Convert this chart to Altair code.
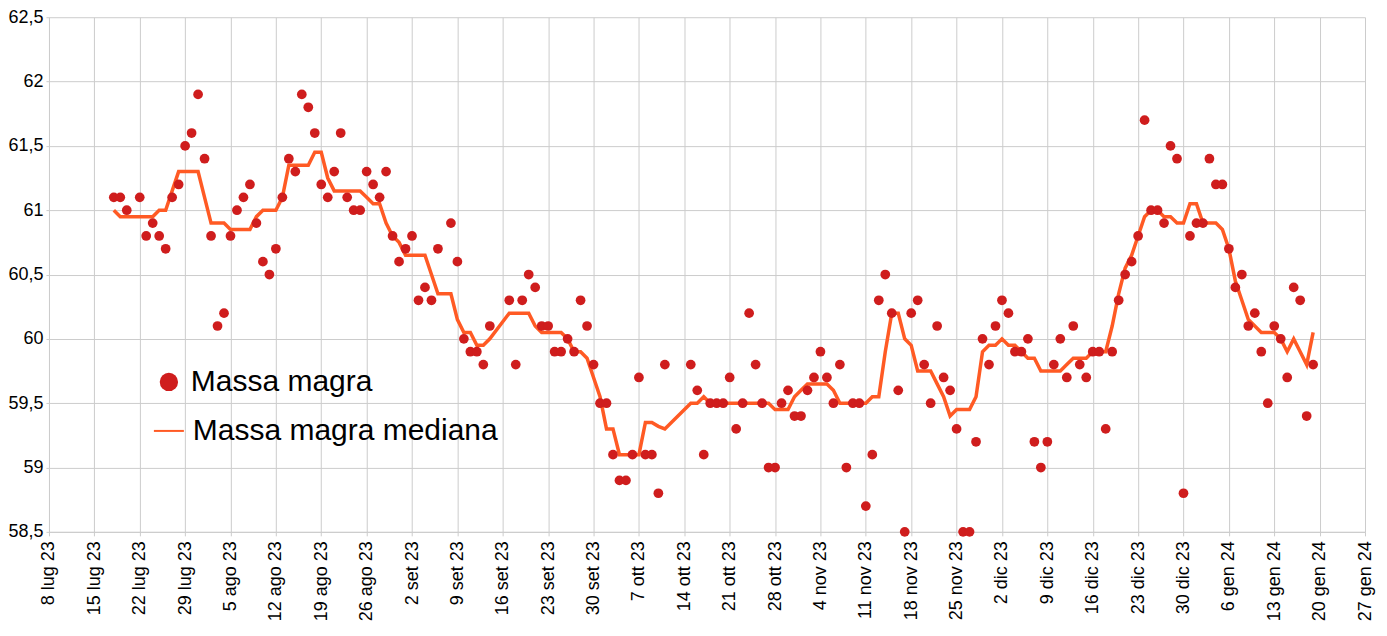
import json
import altair as alt
import pandas as pd

# ---- data -------------------------------------------------------------
# day offsets are counted from 8 lug 23 (day 0); first measurement on day 10
first_day = 10
massa_magra = [
    61.1, 61.1, 61.0, None, 61.1, 60.8, 60.9,
    60.8, 60.7, 61.1, 61.2, 61.5, 61.6, 61.9,
    61.4, 60.8, 60.1, 60.2, 60.8, 61.0, 61.1,
    61.2, 60.9, 60.6, 60.5, 60.7, 61.1, 61.4,
    61.3, 61.9, 61.8, 61.6, 61.2, 61.1, 61.3,
    61.6, 61.1, 61.0, 61.0, 61.3, 61.2, 61.1,
    61.3, 60.8, 60.6, 60.7, 60.8, 60.3, 60.4,
    60.3, 60.7, None, 60.9, 60.6, 60.0, 59.9,
    59.9, 59.8, 60.1, None, None, 60.3, 59.8,
    60.3, 60.5, 60.4, 60.1, 60.1, 59.9, 59.9,
    60.0, 59.9, 60.3, 60.1, 59.8, 59.5, 59.5,
    59.1, 58.9, 58.9, 59.1, 59.7, 59.1, 59.1,
    58.8, 59.8, None, None, None, 59.8, 59.6,
    59.1, 59.5, 59.5, 59.5, 59.7, 59.3, 59.5,
    60.2, 59.8, 59.5, 59.0, 59.0, 59.5, 59.6,
    59.4, 59.4, 59.6, 59.7, 59.9, 59.7, 59.5,
    59.8, 59.0, 59.5, 59.5, 58.7, 59.1, 60.3,
    60.5, 60.2, 59.6, 58.5, 60.2, 60.3, 59.8,
    59.5, 60.1, 59.7, 59.6, 59.3, 58.5, 58.5,
    59.2, 60.0, 59.8, 60.1, 60.3, 60.2, 59.9,
    59.9, 60.0, 59.2, 59.0, 59.2, 59.8, 60.0,
    59.7, 60.1, 59.8, 59.7, 59.9, 59.9, 59.3,
    59.9, 60.3, 60.5, 60.6, 60.8, 61.7, 61.0,
    61.0, 60.9, 61.5, 61.4, 58.8, 60.8, 60.9,
    60.9, 61.4, 61.2, 61.2, 60.7, 60.4, 60.5,
    60.1, 60.2, 59.9, 59.5, 60.1, 60.0, 59.7,
    60.4, 60.3, 59.4, 59.8,
]
massa_magra_mediana = [
    61.0, 60.95, 60.95, None, 60.95, 60.95, 60.95,
    61.0, 61.0, 61.15, 61.3, 61.3, 61.3, 61.3,
    61.1, 60.9, 60.9, 60.9, 60.85, 60.85, 60.85,
    60.85, 60.95, 61.0, 61.0, 61.0, 61.1, 61.35,
    61.35, 61.35, 61.35, 61.45, 61.45, 61.25, 61.15,
    61.15, 61.15, 61.15, 61.15, 61.1, 61.05, 61.05,
    60.9, 60.8, 60.75, 60.65, 60.65, 60.65, 60.65,
    60.5, 60.35, None, 60.35, 60.15, 60.05, 60.05,
    59.95, 59.95, 60.0, None, None, 60.2, 60.2,
    60.2, 60.2, 60.1, 60.05, 60.05, 60.05, 60.05,
    60.0, 59.9, 59.9, 59.85, 59.7, 59.55, 59.3,
    59.3, 59.1, 59.1, 59.1, 59.1, 59.35, 59.35,
    59.32, 59.3, None, None, None, 59.5, 59.5,
    59.55, 59.5, 59.5, 59.5, 59.5, 59.5, 59.5,
    59.5, 59.5, 59.5, 59.5, 59.45, 59.45, 59.45,
    59.55, 59.6, 59.65, 59.65, 59.65, 59.65, 59.6,
    59.5, 59.5, 59.5, 59.5, 59.5, 59.55, 59.55,
    59.9, 60.2, 60.2, 60.0, 59.95, 59.75, 59.75,
    59.75, 59.65, 59.55, 59.4, 59.45, 59.45, 59.45,
    59.55, 59.9, 59.95, 59.95, 60.0, 59.95, 59.95,
    59.9, 59.85, 59.85, 59.75, 59.75, 59.75, 59.75,
    59.8, 59.85, 59.85, 59.85, 59.9, 59.9, 59.9,
    60.1, 60.35, 60.55, 60.65, 60.8, 60.95, 61.0,
    61.0, 60.95, 60.95, 60.9, 60.9, 61.05, 61.05,
    60.9, 60.9, 60.9, 60.85, 60.7, 60.45, 60.3,
    60.15, 60.1, 60.05, 60.05, 60.05, 60.0, 59.9,
    60.0, 59.9, 59.8, 60.05,
]
tick_labels = [
    "8 lug 23", "15 lug 23", "22 lug 23", "29 lug 23", "5 ago 23", "12 ago 23",
    "19 ago 23", "26 ago 23", "2 set 23", "9 set 23", "16 set 23", "23 set 23",
    "30 set 23", "7 ott 23", "14 ott 23", "21 ott 23", "28 ott 23", "4 nov 23",
    "11 nov 23", "18 nov 23", "25 nov 23", "2 dic 23", "9 dic 23", "16 dic 23",
    "23 dic 23", "30 dic 23", "6 gen 24", "13 gen 24", "20 gen 24", "27 gen 24",
]
y_ticks = [58.5, 59, 59.5, 60, 60.5, 61, 61.5, 62, 62.5]

# ---- build tables -----------------------------------------------------
days = list(range(first_day, first_day + len(massa_magra)))
df_pts = pd.DataFrame({"day": days, "v": massa_magra, "series": "Massa magra"}).dropna()
df_med = pd.DataFrame({"day": days, "v": massa_magra_mediana,
                       "series": "Massa magra mediana"}).dropna()

GRID = "#cccccc"
FONT = "Liberation Sans"
RED = "#cf1d1d"
ORANGE = "#ff5a24"

x_enc = alt.X(
    "day:Q",
    scale=alt.Scale(domain=[0, 203], nice=False, zero=False),
    axis=alt.Axis(
        values=list(range(0, 204, 7)),
        labelExpr=json.dumps(tick_labels) + "[round(datum.value / 7)]",
        labelAngle=270, labelFontSize=18, labelFont=FONT, labelColor="black",
        labelPadding=5, tickSize=4, tickColor=GRID, domainColor=GRID,
        gridColor=GRID, title=None, labelOverlap=False,
    ),
)
y_enc = alt.Y(
    "v:Q",
    scale=alt.Scale(domain=[58.5, 62.5], nice=False, zero=False),
    axis=alt.Axis(
        values=y_ticks,
        labelExpr="replace(format(datum.value, '.1~f'), '.', ',')",
        labelFontSize=18, labelFont=FONT, labelColor="black",
        labelPadding=3, tickSize=3, tickColor=GRID, domainColor=GRID,
        gridColor=GRID, title=None,
    ),
)

line = alt.Chart(df_med).mark_line(strokeWidth=3.5).encode(
    x=x_enc, y=y_enc,
    stroke=alt.Stroke(
        "series:N",
        scale=alt.Scale(domain=["Massa magra mediana"], range=[ORANGE]),
        legend=alt.Legend(
            title=None, orient="none", legendX=104, legendY=398, padding=0,
            symbolType="stroke", symbolSize=900, symbolStrokeWidth=2,
            labelFontSize=30, labelFont=FONT, labelColor="black",
            labelOffset=8, labelLimit=600,
        ),
    ),
)

points = alt.Chart(df_pts).mark_circle(size=95, opacity=1).encode(
    x=x_enc, y=y_enc,
    color=alt.Color(
        "series:N",
        scale=alt.Scale(domain=["Massa magra"], range=[RED]),
        legend=alt.Legend(
            title=None, orient="none", legendX=105, legendY=350, padding=0,
            symbolType="circle", symbolSize=336, symbolStrokeWidth=0,
            labelFontSize=30, labelFont=FONT, labelColor="black",
            labelOffset=7, labelLimit=600,
        ),
    ),
)

chart = (
    alt.layer(line, points)
    .properties(
        width=1317, height=515,
        autosize=alt.AutoSizeParams(type="none"),
        padding={"left": 41, "top": 9, "right": 14, "bottom": 100},
        background="white",
    )
    .configure_view(stroke=None)
)

chart.save("out.html", embed_options={"renderer": "svg", "actions": False})
